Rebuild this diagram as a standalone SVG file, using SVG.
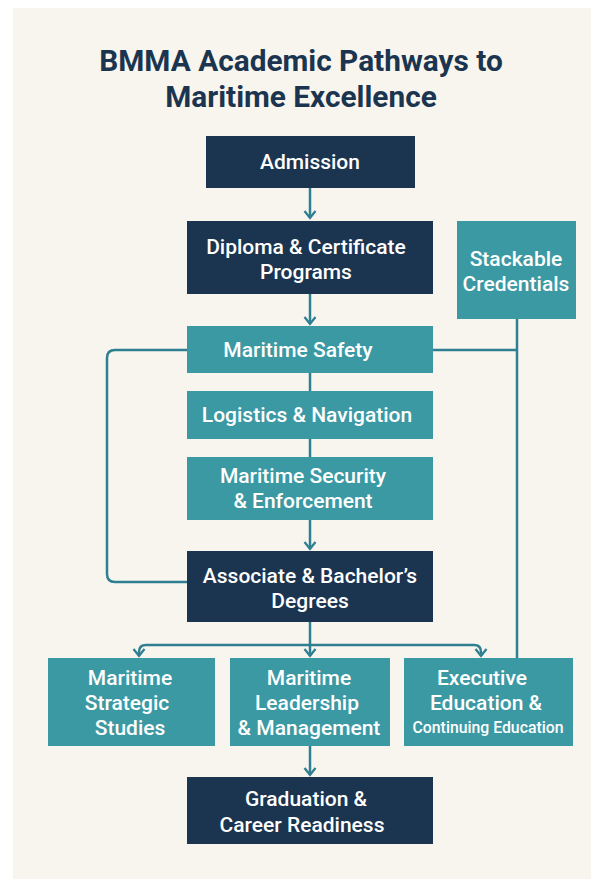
<svg xmlns="http://www.w3.org/2000/svg" width="603" height="886" viewBox="0 0 603 886">
<style>
.bg{fill:#f8f5ee}
.navy{fill:#1b3550}
.teal{fill:#3b99a3}
.t{fill:#ffffff;font-family:Roboto,"Noto Sans",sans-serif;font-weight:500;font-size:21px;text-anchor:middle}
.title{fill:#1b3550;font-family:Roboto,"Noto Sans",sans-serif;font-weight:700;font-size:29.8px;text-anchor:middle}
.ln{fill:none;stroke:#2e7f91;stroke-width:2.5}
</style>
<defs>
<marker id="ah" viewBox="0 0 12 14" refX="10" refY="7" markerWidth="12" markerHeight="14" markerUnits="userSpaceOnUse" orient="auto">
<path d="M3,1.5 L10,7 L3,12.5" fill="none" stroke="#2e7f91" stroke-width="2.3"/>
</marker>
</defs>
<rect x="0" y="0" width="603" height="886" fill="#ffffff"/>
<rect class="bg" x="13" y="8" width="578" height="871"/>
<text class="title" x="301" y="71">BMMA Academic Pathways to</text>
<text class="title" x="301" y="106.5">Maritime Excellence</text>
<g id="connectors">
<line class="ln" x1="310" y1="188" x2="310" y2="218" marker-end="url(#ah)"/>
<line class="ln" x1="310" y1="294" x2="310" y2="324" marker-end="url(#ah)"/>
<line class="ln" x1="310" y1="373" x2="310" y2="391"/>
<line class="ln" x1="310" y1="439" x2="310" y2="457"/>
<line class="ln" x1="310" y1="520" x2="310" y2="549" marker-end="url(#ah)"/>
<path class="ln" d="M187,350 H115 Q107,350 107,358 V574 Q107,582 115,582 H187"/>
<path class="ln" d="M433,350 H517"/>
<path class="ln" d="M517,319 V658"/>
<path class="ln" d="M310,622 V656" marker-end="url(#ah)"/>
<path class="ln" d="M146,645 H474 Q481,645 481,652 V656" marker-end="url(#ah)"/>
<path class="ln" d="M146,645 Q139,645 139,652 V656" marker-end="url(#ah)"/>
<line class="ln" x1="310" y1="746" x2="310" y2="775" marker-end="url(#ah)"/>
</g>
<g id="admission"><rect class="navy" x="206" y="136" width="209" height="52"/><text class="t" x="310" y="169">Admission</text></g>
<g id="diploma"><rect class="navy" x="187" y="221" width="246" height="73"/><text class="t" x="306" y="254">Diploma &amp; Certificate</text><text class="t" x="306" y="279">Programs</text></g>
<g id="stackable"><rect class="teal" x="457" y="221" width="119" height="98"/><text class="t" x="516" y="266">Stackable</text><text class="t" x="516" y="291">Credentials</text></g>
<g id="safety"><rect class="teal" x="187" y="326" width="246" height="47"/><text class="t" x="298" y="357">Maritime Safety</text></g>
<g id="logistics"><rect class="teal" x="187" y="391" width="246" height="48"/><text class="t" x="307" y="422">Logistics &amp; Navigation</text></g>
<g id="security"><rect class="teal" x="187" y="457" width="246" height="63"/><text class="t" x="303" y="483">Maritime Security</text><text class="t" x="303" y="508">&amp; Enforcement</text></g>
<g id="degrees"><rect class="navy" x="187" y="551" width="246" height="71"/><text class="t" x="310" y="583">Associate &amp; Bachelor’s</text><text class="t" x="310" y="608">Degrees</text></g>
<g id="strategic"><rect class="teal" x="48" y="658" width="167" height="88"/><text class="t" x="130" y="685">Maritime</text><text class="t" x="127" y="710">Strategic</text><text class="t" x="130" y="735">Studies</text></g>
<g id="leadership"><rect class="teal" x="230" y="658" width="160" height="88"/><text class="t" x="309" y="685">Maritime</text><text class="t" x="307" y="710">Leadership</text><text class="t" x="309" y="735">&amp; Management</text></g>
<g id="executive"><rect class="teal" x="404" y="658" width="169" height="88"/><text class="t" x="482" y="685">Executive</text><text class="t" x="486" y="710">Education &amp;</text><text class="t" x="488" y="733" style="font-size:15.8px">Continuing Education</text></g>
<g id="graduation"><rect class="navy" x="187" y="777" width="246" height="67"/><text class="t" x="306" y="806">Graduation &amp;</text><text class="t" x="302" y="832">Career Readiness</text></g>
</svg>
